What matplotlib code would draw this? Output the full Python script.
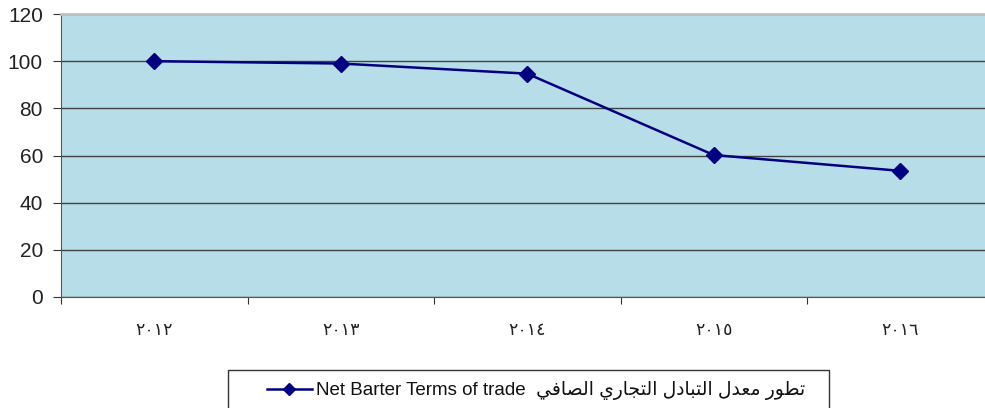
import numpy as np
import matplotlib.pyplot as plt
from matplotlib.lines import Line2D
from matplotlib.patches import Rectangle

years = ['\u0662\u0660\u0661\u0662', '\u0662\u0660\u0661\u0663', '\u0662\u0660\u0661\u0664',
         '\u0662\u0660\u0661\u0665', '\u0662\u0660\u0661\u0666']
values = [100.0, 99.0, 94.7, 60.2, 53.5]
yticks = [0, 20, 40, 60, 80, 100, 120]

# arabic words in presentation forms, visual (left-to-right) order
ar_words = [
    '\uFEF2\uFED3\uFE8E\uFEBC\uFEDF\uFE8D',              # الصافي
    '\uFEF1\uFEAD\uFE8E\uFEA0\uFE98\uFEDF\uFE8D',        # التجاري
    '\uFEDD\uFEA9\uFE8E\uFE92\uFE98\uFEDF\uFE8D',        # التبادل
    '\uFEDD\uFEAA\uFECC\uFEE3',                          # معدل
    '\uFEAD\uFEEE\uFEC4\uFE97',                          # تطور
]
label = 'Net Barter Terms of trade  ' + ' '.join(ar_words)

plt.rcParams['font.family'] = ['Liberation Sans', 'DejaVu Sans']

W, H = 985, 408
fig = plt.figure(figsize=(W / 100, H / 100), dpi=100)
ax = fig.add_axes([61 / W, 1 - 297 / H, (993.5 - 61) / W, (297 - 14) / H])
ax.set_facecolor('#B7DEE8')

x = np.arange(len(years))
ax.plot(x, values, color='#000080', lw=1.8, marker='D', ms=8.5, zorder=3)

ax.set_ylim(0, 120)
ax.set_xlim(-0.5, len(years) - 0.5)
ax.set_yticks(yticks)
ax.set_yticklabels([str(v) for v in yticks], fontsize=15, color='#222222')
ax.yaxis.grid(True, color='#404040', lw=1)
ax.set_axisbelow(True)

ax.set_xticks(np.arange(-0.5, len(years)), labels=[''] * (len(years) + 1))
ax.set_xticks(x, labels=years, minor=True)
for t in ax.get_xticklabels(minor=True):
    t.set_family('DejaVu Sans')
ax.tick_params(axis='x', which='minor', length=0, pad=17, labelsize=12.5, labelcolor='#222222')
ax.tick_params(axis='x', which='major', length=5, color='#333333')
ax.tick_params(axis='y', length=6, pad=7, color='#333333')

ax.spines['top'].set_color('#c0c0c0')
ax.spines['top'].set_linewidth(2)
ax.spines['right'].set_visible(False)
ax.spines['left'].set_color('#555555')
ax.spines['bottom'].set_color('#555555')

# legend box (cut by the lower edge of the picture)
fig.add_artist(Rectangle((228 / W, -0.02), (829 - 228) / W, 0.02 + (408 - 370) / H,
                         transform=fig.transFigure, fill=False, edgecolor='#333333', lw=1))
handle = Line2D([], [], color='#000080', lw=1.8, marker='D', ms=6.5)
leg = fig.legend([handle], [label], loc='center', bbox_to_anchor=(536 / W, 1 - 391 / H),
                 frameon=False, fontsize=13.5, handlelength=2.4, handletextpad=0.25,
                 borderpad=0, borderaxespad=0)
for t in leg.get_texts():
    t.set_color('#111111')

fig.savefig('out.png', dpi=100)
